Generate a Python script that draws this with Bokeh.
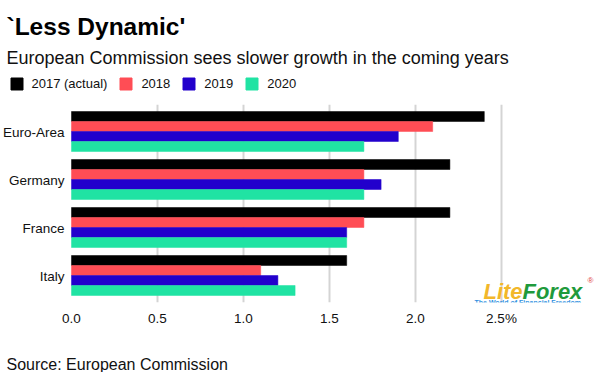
from bokeh.plotting import figure
from bokeh.layouts import column
from bokeh.models import (ColumnDataSource, FactorRange, FixedTicker, Legend,
                          LegendItem, Label, LabelSet, Range1d)
from bokeh.transform import dodge
from bokeh.core.properties import value
from bokeh.embed import file_html
from bokeh.resources import INLINE

# ---- data ----
countries = ["Euro-Area", "Germany", "France", "Italy"]
series_names = ["2017 (actual)", "2018", "2019", "2020"]
v2017 = [2.4, 2.2, 2.2, 1.6]
v2018 = [2.1, 1.7, 1.7, 1.1]
v2019 = [1.9, 1.8, 1.6, 1.2]
v2020 = [1.7, 1.7, 1.6, 1.3]
x_ticks = [0, 0.5, 1.0, 1.5, 2.0, 2.5]
tick_labels = ["0.0", "0.5", "1.0", "1.5", "2.0", "2.5%"]

colors = ["#000000", "#ff4d55", "#2200cc", "#20e3a3"]
FONT = "Liberation Sans"
W = 610


def blank(height):
    f = figure(width=W, height=height, x_range=Range1d(0, W),
               y_range=Range1d(0, height), output_backend="svg",
               toolbar_location=None, min_border=0, outline_line_color=None,
               x_axis_location=None, y_axis_location=None)
    f.grid.grid_line_color = None
    return f


# ---------- header: title, subtitle, legend ----------
head = blank(104)
head.add_layout(Label(x=6, y=78, text="`Less Dynamic'", text_font=FONT,
                      text_font_size="24.5px", text_font_style="bold",
                      text_color="#000000", text_baseline="alphabetic"))
head.add_layout(Label(x=6, y=47,
                      text="European Commission sees slower growth in the coming years",
                      text_font=FONT, text_font_size="18px",
                      text_color="#111111", text_baseline="alphabetic"))
# legend proxies (kept outside the visible range)
proxy = ColumnDataSource(dict(y=[-50], left=[-60], right=[-55]))
swatches = [head.hbar(y="y", left="left", right="right", height=1, color=c,
                      source=proxy) for c in colors]
legend = Legend(items=[LegendItem(label=n, renderers=[r])
                       for n, r in zip(series_names, swatches)],
                orientation="horizontal", location=(8.5, 13),
                glyph_width=15, glyph_height=15, label_height=12,
                label_standoff=8, spacing=11,
                padding=0, margin=0, border_line_color=None,
                background_fill_alpha=0, label_text_font=FONT,
                label_text_font_size="13px", label_text_color="#111111")
head.add_layout(legend)

# ---------- main chart ----------
source = ColumnDataSource(dict(country=countries, s0=v2017, s1=v2018,
                               s2=v2019, s3=v2020))
PX = 172.0                      # pixels per percentage point
x_min = -71 / PX                # room on the left for the category labels
x_max = 2.5 + 109 / PX          # room on the right for the watermark
y_range = FactorRange(factors=list(reversed(countries)), range_padding=0.03125)
p = figure(width=W, height=234, y_range=y_range, x_range=(x_min, x_max),
           output_backend="svg", toolbar_location=None,
           min_border_left=0, min_border_right=0, min_border_top=0,
           min_border_bottom=36, outline_line_color=None,
           y_axis_location=None)

offsets = [0.3125, 0.1042, -0.1042, -0.3125]
for i, col in enumerate(["s0", "s1", "s2", "s3"]):
    p.hbar(y=dodge("country", offsets[i], range=p.y_range), right=col,
           left=0, height=0.2083, fill_color=colors[i],
           line_color=colors[i], line_width=0.5, source=source)

p.ygrid.grid_line_color = None
p.add_layout(LabelSet(x=0, y="country", text="country", source=source,
                      x_offset=-7, y_offset=-1, text_align="right",
                      text_baseline="middle", text_font=value(FONT),
                      text_font_size="13.5px", text_color="#111111"))

p.xaxis.ticker = FixedTicker(ticks=x_ticks)
p.xaxis.major_label_overrides = {t: l for t, l in zip(x_ticks, tick_labels)}
p.xaxis.axis_line_color = None
p.xaxis.major_tick_line_color = None
p.xaxis.minor_tick_line_color = None
p.xaxis.major_tick_out = 0
p.xaxis.major_tick_in = 0
p.xaxis.major_label_standoff = 8
p.xaxis.major_label_text_font = FONT
p.xaxis.major_label_text_font_size = "13.5px"
p.xaxis.major_label_text_color = "#111111"
p.xgrid.ticker = FixedTicker(ticks=x_ticks[1:])
p.xgrid.grid_line_color = "#d4d4d4"
p.xgrid.grid_line_width = 2

# watermark
BOTTOM = -0.0625
p.add_layout(Label(x=2.395, y=BOTTOM, y_offset=11, text="Lite",
                   text_font=FONT, text_font_size="22px",
                   text_font_style="bold italic", text_color="#f2b72a",
                   text_baseline="alphabetic"))
p.add_layout(Label(x=2.395, y=BOTTOM, x_offset=39, y_offset=11, text="Forex",
                   text_font=FONT, text_font_size="22px",
                   text_font_style="bold italic", text_color="#1f9a3c",
                   text_baseline="alphabetic"))
p.add_layout(Label(x=2.395, y=BOTTOM, x_offset=104, y_offset=22, text="®",
                   text_font=FONT, text_font_size="8px",
                   text_color="#e04040", text_baseline="alphabetic"))
p.add_layout(Label(x=2.343, y=BOTTOM, y_offset=0.5,
                   text="The World of Financial Freedom",
                   text_font=FONT, text_font_size="7px",
                   text_font_style="bold", text_color="#2f8fe0",
                   text_baseline="alphabetic"))

# ---------- footer: source ----------
foot = blank(34)
foot.add_layout(Label(x=6, y=8, text="Source: European Commission",
                      text_font=FONT, text_font_size="16px",
                      text_color="#111111", text_baseline="alphabetic"))

layout = column(head, p, foot, spacing=0)
open("out.html", "w").write(file_html(layout, INLINE))
